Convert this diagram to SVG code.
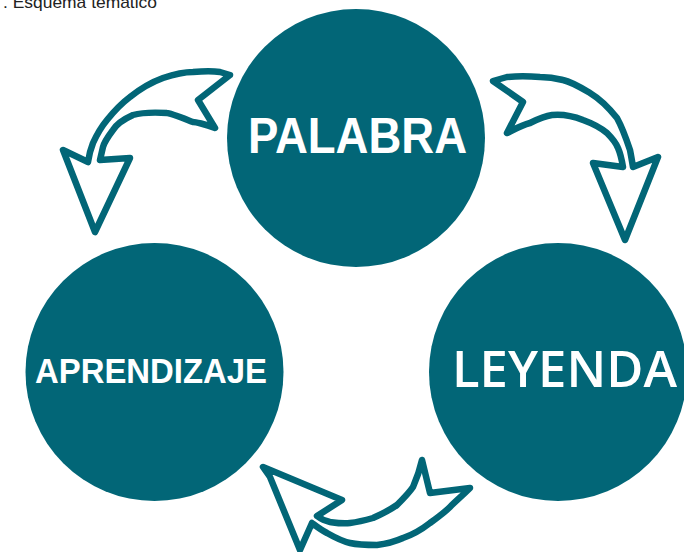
<svg xmlns="http://www.w3.org/2000/svg" width="684" height="552" viewBox="0 0 684 552">
<style>
.node{fill:#026677;}
.lbl{fill:#ffffff;}
.arrow{fill:#ffffff;stroke:#026677;stroke-width:6.5;stroke-linejoin:round;stroke-linecap:round;}
.title{font-family:"Liberation Sans",Arial,sans-serif;font-size:17px;fill:#222222;}
</style>
<rect width="684" height="552" fill="#ffffff"/>
<text class="title" x="3" y="8" textLength="154" lengthAdjust="spacingAndGlyphs">. Esquema temático</text>
<g id="connectors">
<path class="arrow" d="M230,75 L198,100 L215,128 C205,124 195,122 193,122 C180,117 170,113 167,113 C150,112 140,113 133,115 C122,120 116,125 113,130 C107,138 104,143 103,147 L100,160 L130,158 L95,232 L63,150 L88,162 C89,155 91,148 93,143 C98,132 102,126 107,120 C115,110 122,103 130,97 C140,89 152,82 163,78 C175,74 185,72 193,72 C205,71 213,71 220,72 Z"/>
<path class="arrow" d="M493,81 L523,102 L507,133 C515,129 522,125 530,123 C538,119 545,116 552,115 C562,114 573,116 583,120 C594,124 601,128 607,133 C612,138 616,143 618,148 C621,155 622,161 623,167 L593,163 L625,240 L658,157 L633,167 C632,161 631,155 630,150 C626,138 622,127 617,118 C609,108 600,99 590,93 C580,87 572,82 563,80 C555,78 547,77 540,77 C528,76 517,76 507,77 Z"/>
<path class="arrow" d="M263,467 L342,500 L317,516 C321,519 325,521 330,522 C337,523 343,524 350,523 C358,522 366,520 373,518 C382,514 390,510 397,505 C403,499 409,493 413,487 C417,478 420,469 422,460 L430,493 L470,488 C463,495 456,501 450,507 C444,513 437,518 430,523 C421,530 412,535 403,538 C394,542 385,544 377,545 C368,545 359,545 350,543 C341,541 334,537 327,533 C321,530 316,526 312,523 L300,550 L270,477 Z"/>
</g>
<g id="node-palabra">
<circle class="node" cx="356" cy="138" r="129"/>
<text class="lbl" x="357.5" y="153" text-anchor="middle" font-family="'Liberation Sans',Arial,sans-serif" font-weight="bold" font-size="50" textLength="219" lengthAdjust="spacingAndGlyphs">PALABRA</text>
</g>
<g id="node-aprendizaje">
<circle class="node" cx="154.5" cy="372" r="129"/>
<text class="lbl" x="151" y="383" text-anchor="middle" font-family="'Liberation Sans',Arial,sans-serif" font-weight="bold" font-size="35" textLength="232" lengthAdjust="spacingAndGlyphs">APRENDIZAJE</text>
</g>
<g id="node-leyenda">
<circle class="node" cx="558" cy="372" r="129"/>
<text class="lbl" x="564.5" y="387" text-anchor="middle" font-family="'Open Sans','Noto Sans',sans-serif" font-weight="600" font-size="50" textLength="225" lengthAdjust="spacingAndGlyphs">LEYENDA</text>
</g>
</svg>
